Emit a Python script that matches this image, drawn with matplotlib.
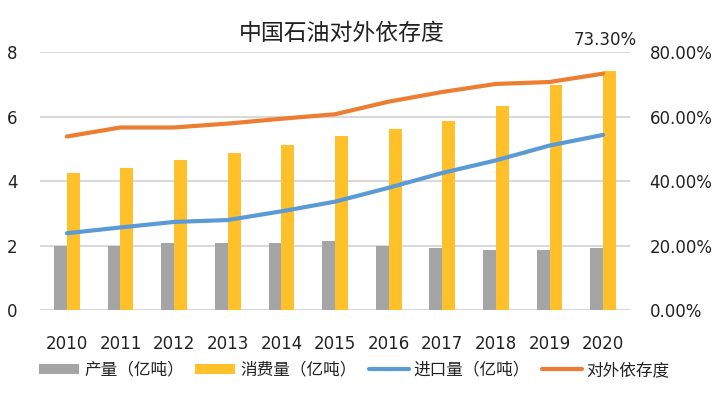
import numpy as np
import matplotlib
matplotlib.use("Agg")
import matplotlib.pyplot as plt
from matplotlib.ticker import FuncFormatter

plt.rcParams['font.family'] = ['DejaVu Sans', 'Noto Sans CJK SC']

# Data
years = ['2010', '2011', '2012', '2013', '2014', '2015',
         '2016', '2017', '2018', '2019', '2020']
production = [2.00, 2.00, 2.07, 2.07, 2.07, 2.13, 2.00, 1.93, 1.87, 1.87, 1.93]
consumption = [4.26, 4.39, 4.65, 4.86, 5.13, 5.40, 5.60, 5.86, 6.33, 6.98, 7.40]
imports = [2.38, 2.56, 2.73, 2.79, 3.06, 3.36, 3.79, 4.25, 4.64, 5.10, 5.43]
dependency = [53.8, 56.6, 56.6, 57.8, 59.3, 60.7, 64.6, 67.6, 70.1, 70.7, 73.3]

labels = ['产量（亿吨）', '消费量（亿吨）', '进口量（亿吨）', '对外依存度']

c_gray = '#A5A5A5'
c_yellow = '#FFC02A'
c_blue = '#5B9BD5'
c_orange = '#ED7D31'

fig = plt.figure(figsize=(7.2, 3.94), dpi=100)
ax = fig.add_axes([0.0556, 0.2132, 0.8194, 0.6548])
ax2 = ax.twinx()

x = np.arange(len(years))
w = 0.24
b1 = ax.bar(x - w / 2, production, w, color=c_gray, label=labels[0], zorder=2)
b2 = ax.bar(x + w / 2, consumption, w, color=c_yellow, label=labels[1], zorder=2)
l1, = ax.plot(x, imports, color=c_blue, lw=3, label=labels[2], zorder=3,
              solid_capstyle='round')
l2, = ax2.plot(x, dependency, color=c_orange, lw=3, label=labels[3],
               solid_capstyle='round')

ax.set_xlim(-0.5, len(years) - 0.5)
ax.set_ylim(0, 8)
ax.set_yticks([0, 2, 4, 6, 8])
ax2.set_ylim(0, 80)
ax2.set_yticks([0, 20, 40, 60, 80])
ax2.yaxis.set_major_formatter(FuncFormatter(lambda v, p: '%.2f%%' % v))

ax.set_xticks(x)
ax.set_xticklabels(years)
ax.grid(axis='y', color='#D9D9D9', lw=1.5, zorder=0)
for a in (ax, ax2):
    for s in a.spines.values():
        s.set_visible(False)
ax.tick_params(axis='both', length=0, labelsize=12, colors='#222222')
ax.tick_params(axis='x', pad=18)
ax.tick_params(axis='y', pad=16)
ax2.tick_params(axis='y', length=0, labelsize=12, colors='#222222', pad=14)

ax2.annotate('73.30%', xy=(x[-1], dependency[-1]), xytext=(24, 24),
             textcoords='offset points', ha='right', va='center',
             fontsize=12, color='#222222')

fig.text(0.475, 0.916, '中国石油对外依存度', ha='center', va='center',
         fontsize=16.5, color='#222222', family=['Noto Sans CJK SC'])

leg = fig.legend([b1, b2, l1, l2], labels, loc='center left',
                 bbox_to_anchor=(0.045, 0.06), ncol=4, frameon=False,
                 prop={'family': 'Noto Sans CJK SC', 'size': 12},
                 handlelength=2.4, handleheight=0.6, columnspacing=0.7,
                 handletextpad=0.3, borderaxespad=0)
for t in leg.get_texts():
    t.set_color('#222222')

fig.savefig('out.png', dpi=100)
